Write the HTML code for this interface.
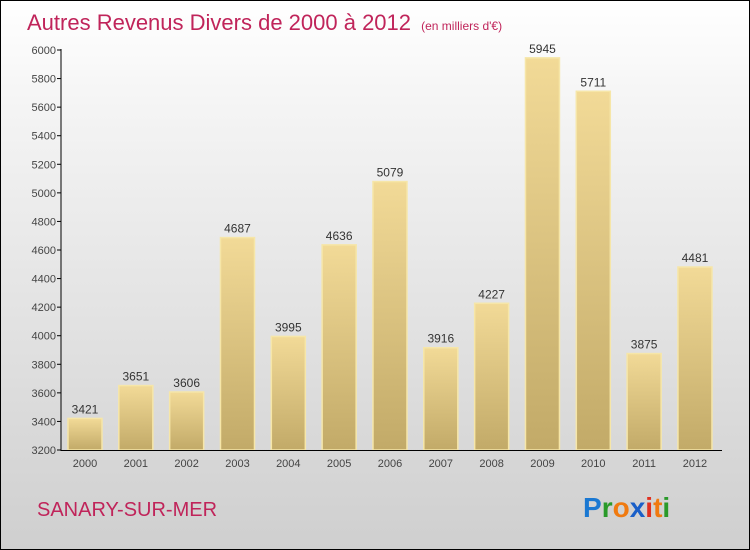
<!DOCTYPE html>
<html><head><meta charset="utf-8"><style>
body{margin:0}
#c{position:relative;width:748px;height:548px;border:1px solid #000;background:linear-gradient(#fff,#f4f4f4 20%,#cfcfcf);font-family:"Liberation Sans",sans-serif;overflow:hidden}
</style></head><body>
<div id="c">
<svg id="s" width="748" height="548">
<defs><linearGradient id="g" x1="0" y1="0" x2="0" y2="1"><stop offset="0" stop-color="#f2da97"/><stop offset="1" stop-color="#c2aa68"/></linearGradient></defs>
<text x="26" y="29" font-size="22" fill="#c0245a">Autres Revenus Divers de 2000 à 2012 <tspan font-size="12" dx="4">(en milliers d'€)</tspan></text>
<text x="36" y="515" font-size="20" fill="#c0245a">SANARY-SUR-MER</text>
<text x="582" y="516" font-size="28" font-weight="bold"><tspan fill="#1a78d2">P</tspan><tspan fill="#2a9a2a">r</tspan><tspan fill="#f07a10">o</tspan><tspan fill="#1a5fc8">x</tspan><tspan fill="#e03020">i</tspan><tspan fill="#f07a10">t</tspan><tspan fill="#2a9a2a">i</tspan></text>
</svg></div>
<script>
const categories=["2000","2001","2002","2003","2004","2005","2006","2007","2008","2009","2010","2011","2012"];
const values=[3421,3651,3606,4687,3995,4636,5079,3916,4227,5945,5711,3875,4481];
const yTicks=[3200,3400,3600,3800,4000,4200,4400,4600,4800,5000,5200,5400,5600,5800,6000];
const s=document.getElementById('s'),NS='http://www.w3.org/2000/svg';
const y=v=>449-(v-3200)*400/2800, x=i=>84+i*50.83;
function mk(t,a,p){const e=document.createElementNS(NS,t);for(const k in a)e.setAttribute(k,a[k]);(p||s).appendChild(e);return e;}
yTicks.forEach(t=>{
 const l=mk('line',{x1:56,x2:60,y1:y(t),y2:y(t),stroke:'#000'});
 
 
 const tx=mk('text',{x:55,y:y(t)+4,'font-size':11,fill:'#444','text-anchor':'end'});tx.textContent=t;
 
 
});
values.forEach((v,i)=>{
 const r=mk('rect',{x:x(i)-17,y:y(v),width:34,height:449-y(v),fill:'url(#g)',stroke:'#f6e6a8','stroke-width':1.5});
 
 
 const t=mk('text',{x:x(i),y:y(v)-5,'font-size':12,fill:'#333','text-anchor':'middle'});t.textContent=v;
 
 
 const c=mk('text',{x:x(i),y:466,'font-size':11,fill:'#444','text-anchor':'middle'});c.textContent=categories[i];
 
 
});
const ya=mk('line',{x1:60,x2:60,y1:y(6000)-1,y2:450,stroke:'#000'});


const xa=mk('line',{x1:60,x2:721,y1:449.5,y2:449.5,stroke:'#000'});


</script>
</body></html>
